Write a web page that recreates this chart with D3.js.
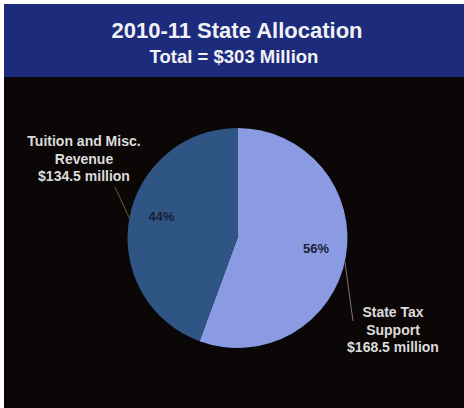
<!DOCTYPE html>
<html>
<head>
<meta charset="utf-8">
<script src="https://cdn.jsdelivr.net/npm/d3@7/dist/d3.min.js"></script>
<style>
  html, body { margin: 0; padding: 0; background: #ffffff; }
  svg { display: block; }
</style>
</head>
<body>
<svg id="chart" width="464" height="408"></svg>
<script>
// Allocation sources (millions of dollars)
const categories = ["State Tax Support", "Tuition and Misc. Revenue"];
const amounts = [168.5, 134.5];
const percentLabels = ["56%", "44%"];
const nameLines = [["State Tax", "Support", "$168.5 million"], ["Tuition and Misc.", "Revenue", "$134.5 million"]];
const sliceColors = ["#8a9be4", "#2f5585"];
const title = "2010-11 State Allocation";
const subtitle = "Total = $303 Million";

const W = 464, H = 408;
const svg = d3.select("#chart");
const font = "'Liberation Sans', Arial, sans-serif";

// panel backgrounds
svg.append("rect").attr("x", 4).attr("y", 4).attr("width", W - 4).attr("height", H - 4).attr("fill", "#0b0707");
svg.append("rect").attr("x", 4).attr("y", 4).attr("width", W - 4).attr("height", 73).attr("fill", "#1d2b7c");

svg.append("text").attr("x", 237).attr("y", 38).attr("text-anchor", "middle")
  .attr("font-family", font).attr("font-weight", "bold").attr("font-size", 22)
  .attr("fill", "#f2f2f6").text(title);
svg.append("text").attr("x", 234).attr("y", 63).attr("text-anchor", "middle")
  .attr("font-family", font).attr("font-weight", "bold").attr("font-size", 18.5)
  .attr("fill", "#f2f2f6").text(subtitle);

// pie
const cx = 237.5, cy = 238, r = 110;
const pie = d3.pie().sort(null).value(d => d)(amounts);
const arc = d3.arc().innerRadius(0).outerRadius(r);
const g = svg.append("g").attr("transform", `translate(${cx},${cy})`);
g.selectAll("path").data(pie).join("path")
  .attr("d", arc).attr("fill", (d, i) => sliceColors[i]);

// percentage labels inside slices, nudged a little off each slice's mid-angle
const pctRadius = r * 0.72;
const pctNudgeDeg = [-2.5, 6];
g.selectAll("text.pct").data(pie).join("text").attr("class", "pct")
  .attr("transform", (d, i) => {
    const a = (d.startAngle + d.endAngle) / 2 + pctNudgeDeg[i] * Math.PI / 180;
    return `translate(${pctRadius * Math.sin(a)},${-pctRadius * Math.cos(a)})`;
  })
  .attr("text-anchor", "middle").attr("dy", "0.35em")
  .attr("font-family", font).attr("font-weight", "bold")
  .attr("font-size", 13).attr("fill", "#1b1f33")
  .text((d, i) => percentLabels[i]);

// leader lines from the rim to the outside labels
const rimPoint = (deg) => {
  const a = deg * Math.PI / 180;
  return [cx + r * Math.sin(a), cy - r * Math.cos(a)];
};
const leaderRimDeg = [102.5, 280.5];
const leaderEnds = [[353, 321], [115, 187]];
const leaderColors = ["#8a6b7a", "#6d5b32"];
leaderRimDeg.forEach((deg, i) => {
  const [x0, y0] = rimPoint(deg);
  svg.append("line").attr("x1", x0).attr("y1", y0)
    .attr("x2", leaderEnds[i][0]).attr("y2", leaderEnds[i][1])
    .attr("stroke", leaderColors[i]).attr("stroke-width", 1);
});

// outside category labels
const labelPos = [[393, 317], [84, 146]];
nameLines.forEach((lines, i) => {
  const t = svg.append("text").attr("text-anchor", "middle")
    .attr("font-family", font).attr("font-weight", "bold")
    .attr("font-size", 14).attr("fill", "#dcdcdc");
  lines.forEach((ln, j) => {
    t.append("tspan").attr("x", labelPos[i][0]).attr("y", labelPos[i][1] + j * 17.5).text(ln);
  });
});
</script>
</body>
</html>
